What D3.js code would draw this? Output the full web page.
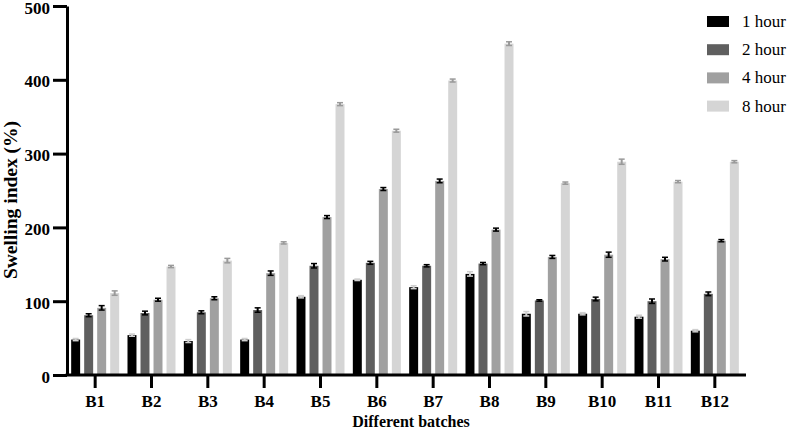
<!DOCTYPE html>
<html>
<head>
<meta charset="utf-8">
<script src="https://cdn.jsdelivr.net/npm/d3@7"></script>
<style>
  body { margin: 0; background: #fff; }
  text { font-family: "Liberation Serif", "Times New Roman", serif; }
</style>
</head>
<body>
<svg id="chart" width="789" height="437"></svg>
<script>
// data
const batches = ['B1', 'B2', 'B3', 'B4', 'B5', 'B6', 'B7', 'B8', 'B9', 'B10', 'B11', 'B12'];
const seriesNames = ['1 hour', '2 hour', '4 hour', '8 hour'];
const hour1 = [48, 54, 46, 48, 106, 129, 119, 137, 83, 83, 79, 60];
const hour2 = [81, 84, 85, 88, 148, 152, 148, 151, 101, 103, 100, 110];
const hour4 = [91, 102, 104, 138, 214, 252, 263, 197, 160, 163, 157, 182];
const hour8 = [111, 147, 155, 179, 367, 331, 399, 449, 260, 289, 262, 289];
const err1 = [1.5, 1.5, 2, 1.5, 1.5, 1, 2, 3, 3, 1.5, 2, 1.5];
const err2 = [2, 2.5, 2, 3, 3, 2, 1.5, 1.5, 1, 2.5, 3, 2.5];
const err4 = [3, 2, 2, 3, 2, 2, 2.5, 2, 2, 3.5, 2.5, 1.5];
const err8 = [3, 1.5, 3, 1.5, 2, 2, 2, 2.5, 1.5, 3.5, 1.5, 1.5];
const yTicks = [0, 100, 200, 300, 400, 500];

const fills = ['#000000', '#5f5f5f', '#a0a0a0', '#d5d5d5'];
const errColors = ['#cfcfcf', '#000000', '#000000', '#9a9a9a'];

const svg = d3.select('#chart');

const values = [hour1, hour2, hour4, hour8];
const errors = [err1, err2, err4, err8];
const rows = [];
batches.forEach((b, i) => {
    seriesNames.forEach((s, j) => {
        rows.push({batch: b, series: s, idx: j, value: values[j][i], err: errors[j][i]});
    });
});

// scales
const xScale = d3.scaleBand()
    .domain(batches)
    .range([67, 743]);
const xInner = d3.scaleBand()
    .domain(seriesNames)
    .range([0, xScale.bandwidth()])
    .paddingInner(0.31)
    .paddingOuter(0.32);
const yScale = d3.scaleLinear()
    .domain([0, 500])
    .range([375, 6]);

// bars
svg.append('g').selectAll('rect')
    .data(rows)
    .enter()
    .append('rect')
    .attr('x', (d) => xScale(d.batch) + xInner(d.series))
    .attr('y', (d) => yScale(d.value))
    .attr('width', xInner.bandwidth())
    .attr('height', (d) => yScale(0) - yScale(d.value))
    .attr('fill', (d) => fills[d.idx]);

// error bars
const errGroup = svg.append('g');
rows.forEach((d) => {
    const cx = xScale(d.batch) + xInner(d.series) + xInner.bandwidth() / 2;
    const color = errColors[d.idx];
    errGroup.append('line')
        .attr('x1', cx).attr('x2', cx)
        .attr('y1', yScale(d.value + d.err)).attr('y2', yScale(d.value - d.err))
        .attr('stroke', color).attr('stroke-width', 2);
    [d.value + d.err, d.value - d.err].forEach((v) => {
        errGroup.append('line')
            .attr('x1', cx - 3).attr('x2', cx + 3)
            .attr('y1', yScale(v)).attr('y2', yScale(v))
            .attr('stroke', color).attr('stroke-width', 1.5);
    });
});

// y axis
const yAxisGroup = svg.append('g')
    .attr('transform', 'translate(67, 0)')
    .call(d3.axisLeft(yScale).tickValues(yTicks).tickSize(14).tickSizeOuter(0).tickPadding(3));
yAxisGroup.select('.domain').attr('stroke-width', 3);
yAxisGroup.selectAll('.tick line').attr('stroke-width', 3);
yAxisGroup.selectAll('.tick text')
    .attr('font-size', 17)
    .attr('font-weight', 'bold')
    .attr('fill', '#000')
    .attr('dy', '0.42em');

// x axis
const xAxisGroup = svg.append('g')
    .attr('transform', `translate(0, ${yScale(0)})`)
    .call(d3.axisBottom(xScale).tickSize(13).tickSizeOuter(0).tickPadding(7));
xAxisGroup.select('.domain').remove();
xAxisGroup.append('line')
    .attr('x1', 65.5).attr('x2', 746)
    .attr('stroke', '#000').attr('stroke-width', 3);
xAxisGroup.selectAll('.tick line').attr('stroke-width', 3);
xAxisGroup.selectAll('.tick text')
    .attr('font-size', 17)
    .attr('font-weight', 'bold')
    .attr('fill', '#000');

// axis titles
svg.append('text')
    .attr('x', 411)
    .attr('y', 427)
    .style('text-anchor', 'middle')
    .attr('font-size', 16)
    .attr('font-weight', 'bold')
    .text('Different batches');

svg.append('text')
    .style('text-anchor', 'middle')
    .attr('transform', 'translate(16.5, 200) rotate(-90)')
    .attr('font-size', 19.5)
    .attr('font-weight', 'bold')
    .text('Swelling index (%)');

// legend
const legend = svg.append('g').attr('transform', 'translate(707, 16)');
seriesNames.forEach((s, j) => {
    const row = legend.append('g').attr('transform', `translate(0, ${j * 28.2})`);
    row.append('rect')
        .attr('width', 22)
        .attr('height', 11)
        .attr('fill', fills[j]);
    row.append('text')
        .attr('x', 35)
        .attr('y', 11)
        .attr('font-size', 17)
        .attr('fill', '#000')
        .text(s);
});
</script>
</body>
</html>
